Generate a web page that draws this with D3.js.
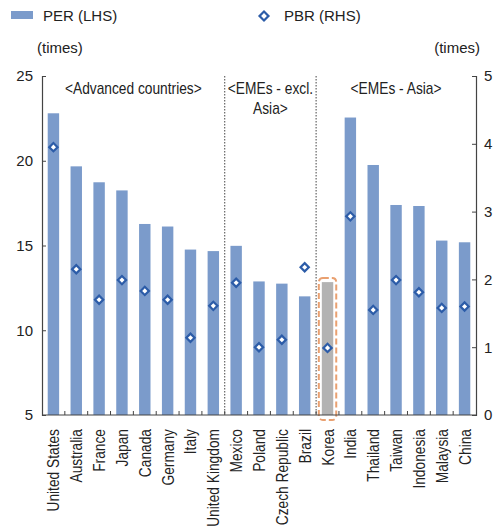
<!DOCTYPE html>
<html><head><meta charset="utf-8">
<script src="https://cdn.jsdelivr.net/npm/d3@7"></script>
<style>
body{margin:0;background:#fff;}
text{font-family:"Liberation Sans",Arial,Helvetica,sans-serif;fill:#222;}
</style></head>
<body><svg id="c" width="497" height="530"></svg>
<script>
const categories = ["United States","Australia","France","Japan","Canada","Germany","Italy","United Kingdom","Mexico","Poland","Czech Republic","Brazil","Korea","India","Thailand","Taiwan","Indonesia","Malaysia","China"];
const perValues = [22.8,19.67,18.73,18.25,16.27,16.12,14.76,14.67,14.98,12.88,12.75,12.0,12.84,22.55,19.75,17.39,17.33,15.29,15.19];
const pbrValues = [3.95,2.15,1.70,1.99,1.83,1.70,1.14,1.61,1.95,1.00,1.11,2.18,0.99,2.93,1.55,1.99,1.81,1.58,1.60];
const leftTicks = [5,10,15,20,25];
const rightTicks = [0,1,2,3,4,5];
const groups = [{lines:["<Advanced countries>"],from:0,to:7},{lines:["<EMEs - excl.","Asia>"],from:8,to:11},{lines:["<EMEs - Asia>"],from:12,to:18}];
const separators = ["Mexico","Korea"];
const highlight = "Korea";

const svg = d3.select("#c");
const L=42,R=476,T=76,B=415;
const SX=0.86; // horizontal condensing factor
const x = d3.scaleBand().domain(categories).range([L,R]).paddingInner(0.5).paddingOuter(0.25);
const yL = d3.scaleLinear().domain([5,25]).range([B,T]);
const yR = d3.scaleLinear().domain([0,5]).range([B,T]);
const step = x.step();
const blue="#7b9bcb", dark="#2c5ca8";

// bars
svg.selectAll("rect.bar").data(categories).join("rect")
  .attr("x",d=>x(d)).attr("width",x.bandwidth())
  .attr("y",(d,i)=>yL(perValues[i])).attr("height",(d,i)=>B-yL(perValues[i]))
  .attr("fill",d=>d===highlight?"#b3b3b3":blue);

// separators
separators.forEach(s=>{
  const sx = x(s) - (step - x.bandwidth())/2;
  svg.append("line").attr("x1",sx).attr("x2",sx).attr("y1",T).attr("y2",B)
    .attr("stroke","#444").attr("stroke-width",1).attr("stroke-dasharray","1.5,1.5");
});

// highlight box
{
  const hx = x(highlight);
  const hi = categories.indexOf(highlight);
  svg.append("rect").attr("x",hx-3).attr("y",yL(perValues[hi])-4)
    .attr("width",x.bandwidth()+6).attr("height",B-yL(perValues[hi])+9)
    .attr("rx",4).attr("fill","none").attr("stroke","#e9a070").attr("stroke-width",2)
    .attr("stroke-dasharray","6,3");
}

// axes
const fmt = d3.format("d");
const axL = d3.axisLeft(yL).tickValues(leftTicks).tickFormat(fmt).tickSize(-4).tickPadding(9);
const gL = svg.append("g").attr("transform",`translate(${L},0)`).call(axL);
const axR = d3.axisRight(yR).tickValues(rightTicks).tickFormat(fmt).tickSize(-4).tickPadding(8);
const gR = svg.append("g").attr("transform",`translate(${R},0)`).call(axR);
const axB = d3.axisBottom(x).tickSize(0).tickFormat("");
const gB = svg.append("g").attr("transform",`translate(0,${B})`).call(axB);
[gL,gR,gB].forEach(g=>{g.select(".domain").attr("stroke","#444").attr("stroke-width",1.2);
  g.selectAll(".tick line").attr("stroke","#444");
  g.selectAll("text").style("font-size","15px").attr("fill","#222").style("font-family",null);});
gB.select(".domain").attr("d",`M${L},0H${R}`);
// bottom ticks at band boundaries
svg.selectAll("line.bt").data(d3.range(1,categories.length)).join("line")
  .attr("x1",i=>L+i*step).attr("x2",i=>L+i*step).attr("y1",B).attr("y2",B-4)
  .attr("stroke","#444");

// category labels (condensed)
svg.selectAll("text.cat").data(categories).join("text")
  .attr("transform",d=>`translate(${x(d)+x.bandwidth()/2+6},${B+14}) rotate(-90) scale(${SX},1)`)
  .attr("text-anchor","end").style("font-size","16px").text(d=>d);

// diamonds
const dsym = d3.symbol().type(d3.symbolSquare).size(34);
svg.selectAll("path.pbr").data(categories).join("path")
  .attr("d",dsym)
  .attr("transform",(d,i)=>`translate(${x(d)+x.bandwidth()/2},${yR(pbrValues[i])}) rotate(45)`)
  .attr("fill","#fff").attr("stroke",dark).attr("stroke-width",2.2);

// group labels (condensed)
groups.forEach(g=>{
  const cx = (x(categories[g.from]) + x(categories[g.to])+x.bandwidth())/2;
  g.lines.forEach((t,j)=>{
    svg.append("text").attr("transform",`translate(${cx},${94+j*20}) scale(${SX},1)`).attr("text-anchor","middle")
      .style("font-size","16px").text(t);
  });
});

// axis titles
svg.append("text").attr("x",37).attr("y",53).style("font-size","15px").text("(times)");
svg.append("text").attr("x",480).attr("y",53).attr("text-anchor","end").style("font-size","15px").text("(times)");

// legend
svg.append("rect").attr("x",11).attr("y",11).attr("width",22).attr("height",8).attr("fill",blue);
svg.append("text").attr("x",43).attr("y",21).style("font-size","15px").text("PER (LHS)");
svg.append("path").attr("d",d3.symbol().type(d3.symbolSquare).size(40))
  .attr("transform","translate(264,16) rotate(45)").attr("fill","#fff").attr("stroke",dark).attr("stroke-width",2.2);
svg.append("text").attr("x",284).attr("y",21).style("font-size","15px").text("PBR (RHS)");
</script></body></html>
